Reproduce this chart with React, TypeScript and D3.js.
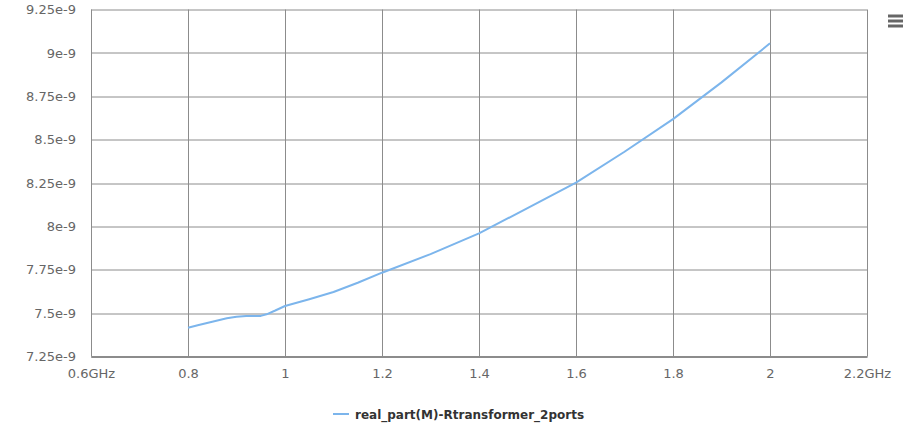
import { useEffect, useRef } from 'react';
import { select, scaleLinear, line, axisBottom, axisLeft } from 'd3';

// frequency sweep (GHz) and real part of M
const freqs = [0.8, 0.82, 0.85, 0.88, 0.9, 0.92, 0.95, 0.962, 0.98, 1.0, 1.05, 1.1, 1.15, 1.2, 1.3, 1.4, 1.5, 1.6, 1.7, 1.8, 1.9, 2.0];
const values = [7.416, 7.43, 7.45, 7.47, 7.479, 7.484, 7.484, 7.493, 7.515, 7.541, 7.58, 7.622, 7.675, 7.733, 7.84, 7.96, 8.105, 8.252, 8.43, 8.618, 8.83, 9.055];
const xTicks = [0.6, 0.8, 1, 1.2, 1.4, 1.6, 1.8, 2, 2.2];
const yTicks = [7.25, 7.5, 7.75, 8, 8.25, 8.5, 8.75, 9, 9.25];
const seriesName = 'real_part(M)-Rtransformer_2ports';

const W = 903;
const H = 442;
const margin = { top: 9.5, right: 36, bottom: 85.5, left: 91 };
const FONT = '"DejaVu Sans", Verdana, sans-serif';

export default function App() {
  const svgRef = useRef<SVGSVGElement>(null);

  useEffect(() => {
    if (!svgRef.current) return;
    const svg = select(svgRef.current);
    svg.selectAll('*').remove();

    const innerW = W - margin.left - margin.right;
    const innerH = H - margin.top - margin.bottom;

    const x = scaleLinear().domain([0.6, 2.2]).range([0, innerW]);
    const y = scaleLinear().domain([7.25, 9.25]).range([innerH, 0]);

    const g = svg.append('g').attr('transform', `translate(${margin.left},${margin.top})`);

    // grid
    g.selectAll('.hgrid')
      .data(yTicks)
      .enter()
      .append('line')
      .attr('x1', 0)
      .attr('x2', innerW)
      .attr('y1', (d) => Math.round(y(d)) + 0.5)
      .attr('y2', (d) => Math.round(y(d)) + 0.5)
      .attr('stroke', '#8c8c8c')
      .attr('stroke-width', 1);
    g.selectAll('.vgrid')
      .data(xTicks)
      .enter()
      .append('line')
      .attr('x1', (d) => Math.round(x(d)) + 0.5)
      .attr('x2', (d) => Math.round(x(d)) + 0.5)
      .attr('y1', 0)
      .attr('y2', innerH)
      .attr('stroke', '#8c8c8c')
      .attr('stroke-width', 1);

    // X axis
    const xAxis = g.append('g')
      .attr('transform', `translate(0,${innerH})`)
      .call(
        axisBottom(x)
          .tickValues(xTicks)
          .tickSize(0)
          .tickPadding(12)
          .tickFormat((d, i) => (i === 0 || i === xTicks.length - 1 ? `${d}GHz` : String(d)))
      );
    xAxis.select('.domain').attr('stroke', '#8c8c8c').attr('stroke-width', 2);
    xAxis.selectAll('text')
      .attr('font-family', FONT)
      .attr('font-size', 13)
      .attr('fill', '#666');

    // Y axis
    const yAxis = g.append('g')
      .call(
        axisLeft(y)
          .tickValues(yTicks)
          .tickSize(0)
          .tickPadding(15)
          .tickFormat((d) => `${d}e-9`)
      );
    yAxis.select('.domain').remove();
    yAxis.selectAll('text')
      .attr('font-family', FONT)
      .attr('font-size', 13)
      .attr('fill', '#666');

    // series line
    const pts = freqs.map((f, i) => [f, values[i]] as [number, number]);
    g.append('path')
      .datum(pts)
      .attr('fill', 'none')
      .attr('stroke', '#7cb5ec')
      .attr('stroke-width', 2)
      .attr('stroke-linejoin', 'round')
      .attr('d', line<[number, number]>().x((d) => x(d[0])).y((d) => y(d[1])));

    // legend
    const legend = svg.append('g').attr('transform', `translate(333,414)`);
    legend.append('line')
      .attr('x1', 0)
      .attr('x2', 16)
      .attr('y1', 0)
      .attr('y2', 0)
      .attr('stroke', '#7cb5ec')
      .attr('stroke-width', 2);
    legend.append('text')
      .attr('x', 22)
      .attr('y', 4.5)
      .attr('font-family', FONT)
      .attr('font-size', 12)
      .attr('font-weight', 'bold')
      .attr('fill', '#333')
      .text(seriesName);

    // menu icon
    const menu = svg.append('g').attr('transform', 'translate(888,16)');
    [0, 5, 10].forEach((dy) => {
      menu.append('line')
        .attr('x1', 0)
        .attr('x2', 15)
        .attr('y1', dy)
        .attr('y2', dy)
        .attr('stroke', '#666')
        .attr('stroke-width', 3);
    });
  }, []);

  return (
    <div style={{ position: 'absolute', left: 0, top: 0, width: W, height: H, background: '#fff' }}>
      <svg ref={svgRef} width={W} height={H} />
    </div>
  );
}
